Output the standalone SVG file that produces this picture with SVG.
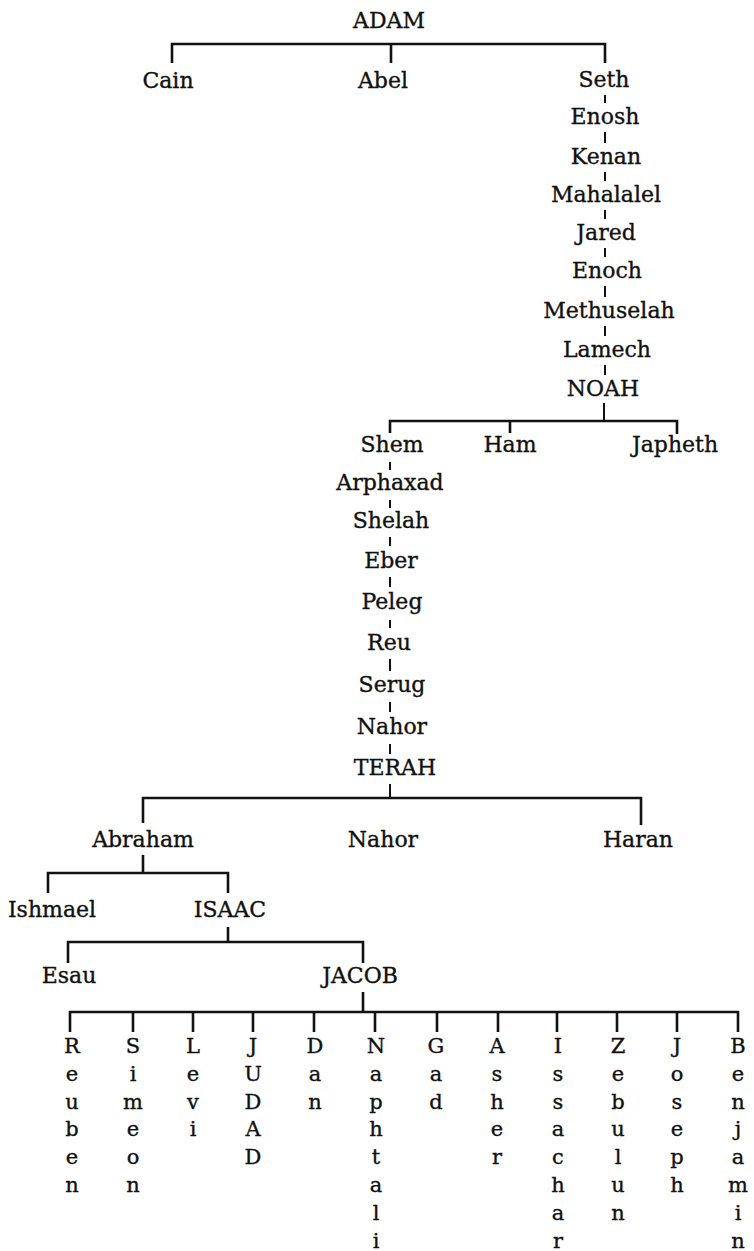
<svg xmlns="http://www.w3.org/2000/svg" width="754" height="1251" viewBox="0 0 754 1251">
<style>
.n{font-family:"DejaVu Serif","Liberation Serif",serif;font-size:22px;text-anchor:middle;fill:#111;stroke:#111;stroke-width:0.35}
.s{font-family:"DejaVu Serif","Liberation Serif",serif;font-size:21px;text-anchor:middle;fill:#111;stroke:#111;stroke-width:0.35}
.c{stroke:#111;stroke-width:2.6;fill:none}
.d{stroke:#111;stroke-width:2;fill:none}
</style>
<rect width="754" height="1251" fill="#fff"/>
<g id="connectors">
<path class="c" d="M172,63 V44 H605 V63 M391,44 V63"/>
<path class="d" d="M605,95 V103 M605,132 V143 M605,172 V181 M605,210 V219 M605,248 V257 M605,286 V297 M605,326 V336 M605,365 V375 M604,403 V421"/>
<path class="c" d="M390,433 V421 H677 V434 M510,421 V433"/>
<path class="d" d="M390,462 V470 M390,500 V508 M390,537 V546 M390,577 V587 M390,620 V628 M390,659 V671 M390,702 V712 M390,744 V754 M390,784 V798"/>
<path class="c" d="M143,823 V798 H641 V825"/>
<path class="c" d="M143,855 V873 M48,893 V873 H228 V893"/>
<path class="c" d="M228,927 V942 M68,963 V942 H363 V963"/>
<path class="c" d="M363,992 V1012 M70,1032 V1012 H738 V1032 M133,1012 V1032 M193,1012 V1032 M253,1012 V1032 M314,1012 V1032 M375,1012 V1032 M437,1012 V1032 M498,1012 V1032 M557,1012 V1032 M617,1012 V1032 M677,1012 V1032"/>
</g>
<g id="adam"><text class="n" x="389" y="28">ADAM</text></g>
<g id="cain"><text class="n" x="168" y="88">Cain</text></g>
<g id="abel"><text class="n" x="383" y="88">Abel</text></g>
<g id="seth"><text class="n" x="604" y="87">Seth</text></g>
<g id="enosh"><text class="n" x="605" y="124">Enosh</text></g>
<g id="kenan"><text class="n" x="606" y="164">Kenan</text></g>
<g id="mahalalel"><text class="n" x="606" y="202">Mahalalel</text></g>
<g id="jared"><text class="n" x="606" y="240">Jared</text></g>
<g id="enoch"><text class="n" x="607" y="278">Enoch</text></g>
<g id="methuselah"><text class="n" x="609" y="318">Methuselah</text></g>
<g id="lamech"><text class="n" x="607" y="357">Lamech</text></g>
<g id="noah"><text class="n" x="603" y="396">NOAH</text></g>
<g id="shem"><text class="n" x="392" y="452">Shem</text></g>
<g id="ham"><text class="n" x="510" y="452">Ham</text></g>
<g id="japheth"><text class="n" x="675" y="452">Japheth</text></g>
<g id="arphaxad"><text class="n" x="390" y="490">Arphaxad</text></g>
<g id="shelah"><text class="n" x="391" y="528">Shelah</text></g>
<g id="eber"><text class="n" x="391" y="568">Eber</text></g>
<g id="peleg"><text class="n" x="392" y="609">Peleg</text></g>
<g id="reu"><text class="n" x="389" y="650">Reu</text></g>
<g id="serug"><text class="n" x="392" y="692">Serug</text></g>
<g id="nahor1"><text class="n" x="392" y="734">Nahor</text></g>
<g id="terah"><text class="n" x="395" y="775">TERAH</text></g>
<g id="abraham"><text class="n" x="143" y="847">Abraham</text></g>
<g id="nahor2"><text class="n" x="383" y="847">Nahor</text></g>
<g id="haran"><text class="n" x="638" y="847">Haran</text></g>
<g id="ishmael"><text class="n" x="52" y="917">Ishmael</text></g>
<g id="isaac"><text class="n" x="230" y="917">ISAAC</text></g>
<g id="esau"><text class="n" x="69" y="983">Esau</text></g>
<g id="jacob"><text class="n" x="360" y="983">JACOB</text></g>
<g id="reuben"><text class="s" y="1053"><tspan x="72">R</tspan><tspan x="72" dy="27.8">e</tspan><tspan x="72" dy="27.8">u</tspan><tspan x="72" dy="27.8">b</tspan><tspan x="72" dy="27.8">e</tspan><tspan x="72" dy="27.8">n</tspan></text></g>
<g id="simeon"><text class="s" y="1053"><tspan x="133">S</tspan><tspan x="133" dy="27.8">i</tspan><tspan x="133" dy="27.8">m</tspan><tspan x="133" dy="27.8">e</tspan><tspan x="133" dy="27.8">o</tspan><tspan x="133" dy="27.8">n</tspan></text></g>
<g id="levi"><text class="s" y="1053"><tspan x="193">L</tspan><tspan x="193" dy="27.8">e</tspan><tspan x="193" dy="27.8">v</tspan><tspan x="193" dy="27.8">i</tspan></text></g>
<g id="judad"><text class="s" y="1053"><tspan x="253">J</tspan><tspan x="253" dy="27.8">U</tspan><tspan x="253" dy="27.8">D</tspan><tspan x="253" dy="27.8">A</tspan><tspan x="253" dy="27.8">D</tspan></text></g>
<g id="dan"><text class="s" y="1053"><tspan x="315">D</tspan><tspan x="315" dy="27.8">a</tspan><tspan x="315" dy="27.8">n</tspan></text></g>
<g id="naphtali"><text class="s" y="1053"><tspan x="376">N</tspan><tspan x="376" dy="27.8">a</tspan><tspan x="376" dy="27.8">p</tspan><tspan x="376" dy="27.8">h</tspan><tspan x="376" dy="27.8">t</tspan><tspan x="376" dy="27.8">a</tspan><tspan x="376" dy="27.8">l</tspan><tspan x="376" dy="27.8">i</tspan></text></g>
<g id="gad"><text class="s" y="1053"><tspan x="436">G</tspan><tspan x="436" dy="27.8">a</tspan><tspan x="436" dy="27.8">d</tspan></text></g>
<g id="asher"><text class="s" y="1053"><tspan x="497">A</tspan><tspan x="497" dy="27.8">s</tspan><tspan x="497" dy="27.8">h</tspan><tspan x="497" dy="27.8">e</tspan><tspan x="497" dy="27.8">r</tspan></text></g>
<g id="issachar"><text class="s" y="1053"><tspan x="558">I</tspan><tspan x="558" dy="27.8">s</tspan><tspan x="558" dy="27.8">s</tspan><tspan x="558" dy="27.8">a</tspan><tspan x="558" dy="27.8">c</tspan><tspan x="558" dy="27.8">h</tspan><tspan x="558" dy="27.8">a</tspan><tspan x="558" dy="27.8">r</tspan></text></g>
<g id="zebulun"><text class="s" y="1053"><tspan x="618">Z</tspan><tspan x="618" dy="27.8">e</tspan><tspan x="618" dy="27.8">b</tspan><tspan x="618" dy="27.8">u</tspan><tspan x="618" dy="27.8">l</tspan><tspan x="618" dy="27.8">u</tspan><tspan x="618" dy="27.8">n</tspan></text></g>
<g id="joseph"><text class="s" y="1053"><tspan x="677">J</tspan><tspan x="677" dy="27.8">o</tspan><tspan x="677" dy="27.8">s</tspan><tspan x="677" dy="27.8">e</tspan><tspan x="677" dy="27.8">p</tspan><tspan x="677" dy="27.8">h</tspan></text></g>
<g id="benjamin"><text class="s" y="1053"><tspan x="738">B</tspan><tspan x="738" dy="27.8">e</tspan><tspan x="738" dy="27.8">n</tspan><tspan x="738" dy="27.8">j</tspan><tspan x="738" dy="27.8">a</tspan><tspan x="738" dy="27.8">m</tspan><tspan x="738" dy="27.8">i</tspan><tspan x="738" dy="27.8">n</tspan></text></g>
</svg>
